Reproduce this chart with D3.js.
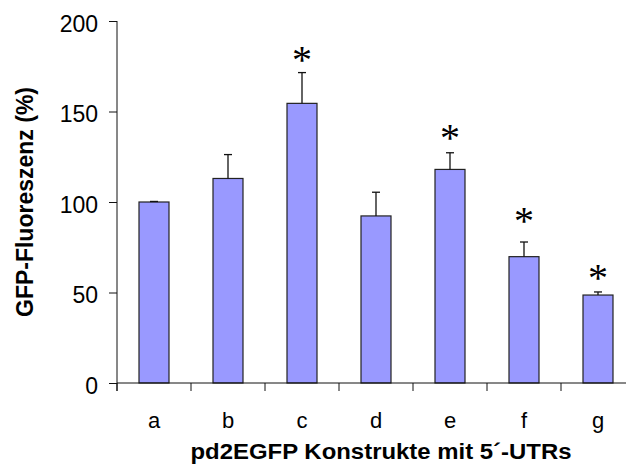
<!DOCTYPE html>
<html>
<head>
<meta charset="utf-8">
<script src="https://cdn.jsdelivr.net/npm/d3@7"></script>
<style>
  body { margin: 0; background: #fff; }
  svg { display: block; font-family: "Liberation Sans", Arial, sans-serif; }
</style>
</head>
<body>
<svg width="626" height="464"></svg>
<script>
// Data
const categories = ['a', 'b', 'c', 'd', 'e', 'f', 'g'];
const values = [100, 113, 154.5, 92.3, 118, 69.8, 48.6];
const errors = [0.3, 13.2, 17, 13.1, 9.2, 8.1, 1.7];
// asterisk centres in value units (null = no asterisk)
const stars = [null, null, 180, null, 137, 91, 59.5];
const yTicks = [0, 50, 100, 150, 200];

const svg = d3.select("svg");

// scales
const x = d3.scaleBand().domain(categories).range([117, 635]);
const y = d3.scaleLinear().domain([0, 200]).range([383, 21]);
const barW = 30;
const starSize = 40;

// y axis
const yAxis = svg.append("g")
    .attr("transform", "translate(117,0)")
    .call(d3.axisLeft(y).tickValues(yTicks).tickSize(8).tickSizeOuter(0).tickPadding(11));
yAxis.select(".domain").attr("stroke", "#111").attr("d", `M0,${y(200)}V${y(0) + 8}`);
yAxis.selectAll(".tick line").attr("stroke", "#111");
yAxis.selectAll(".tick text")
    .attr("font-family", "Liberation Sans, Arial, sans-serif")
    .attr("font-size", 23)
    .attr("fill", "#000")
    .attr("dy", "0.45em");

// bars
svg.append("g").selectAll("rect")
    .data(values)
  .join("rect")
    .attr("x", (d, i) => x(categories[i]) + x.bandwidth() / 2 - barW / 2)
    .attr("y", d => y(d))
    .attr("width", barW)
    .attr("height", d => y(0) - y(d))
    .attr("fill", "#9999ff")
    .attr("stroke", "#222")
    .attr("stroke-width", 1.2);

// error bars
const err = svg.append("g").attr("stroke", "#111").attr("stroke-width", 1.3);
values.forEach((v, i) => {
    const cx = x(categories[i]) + x.bandwidth() / 2;
    err.append("line")
        .attr("x1", cx).attr("x2", cx)
        .attr("y1", y(v)).attr("y2", y(v + errors[i]));
    err.append("line")
        .attr("x1", cx - 4).attr("x2", cx + 4)
        .attr("y1", y(v + errors[i])).attr("y2", y(v + errors[i]));
});

// x axis line + boundary ticks
const xg = svg.append("g");
xg.append("line")
    .attr("x1", 117).attr("x2", x.range()[1])
    .attr("y1", y(0)).attr("y2", y(0))
    .attr("stroke", "#111");
const bounds = categories.map(c => x(c)).concat([x.range()[1]]);
xg.selectAll(".bt")
    .data(bounds)
  .join("line")
    .attr("x1", d => d).attr("x2", d => d)
    .attr("y1", y(0)).attr("y2", y(0) + 8)
    .attr("stroke", "#111");

// category labels
svg.append("g").selectAll("text")
    .data(categories)
  .join("text")
    .attr("x", d => x(d) + x.bandwidth() / 2)
    .attr("y", 428)
    .attr("text-anchor", "middle")
    .attr("font-size", 22)
    .text(d => d);

// significance asterisks
svg.append("g").selectAll("text")
    .data(categories.filter((c, i) => stars[i] !== null))
  .join("text")
    .attr("x", d => x(d) + x.bandwidth() / 2)
    .attr("y", d => y(stars[categories.indexOf(d)]) + starSize * 0.4)
    .attr("text-anchor", "middle")
    .attr("font-family", "Liberation Serif, Times New Roman, serif")
    .attr("font-size", starSize)
    .text("*");

// axis titles
svg.append("text")
    .attr("x", 381)
    .attr("y", 459)
    .attr("text-anchor", "middle")
    .attr("font-weight", "bold")
    .attr("font-size", 22)
    .attr("textLength", 381)
    .attr("lengthAdjust", "spacingAndGlyphs")
    .text("pd2EGFP Konstrukte mit 5´-UTRs");

svg.append("text")
    .attr("transform", "translate(33,202) rotate(-90)")
    .attr("text-anchor", "middle")
    .attr("font-weight", "bold")
    .attr("font-size", 23)
    .attr("textLength", 230)
    .attr("lengthAdjust", "spacingAndGlyphs")
    .text("GFP-Fluoreszenz (%)");
</script>
</body>
</html>
